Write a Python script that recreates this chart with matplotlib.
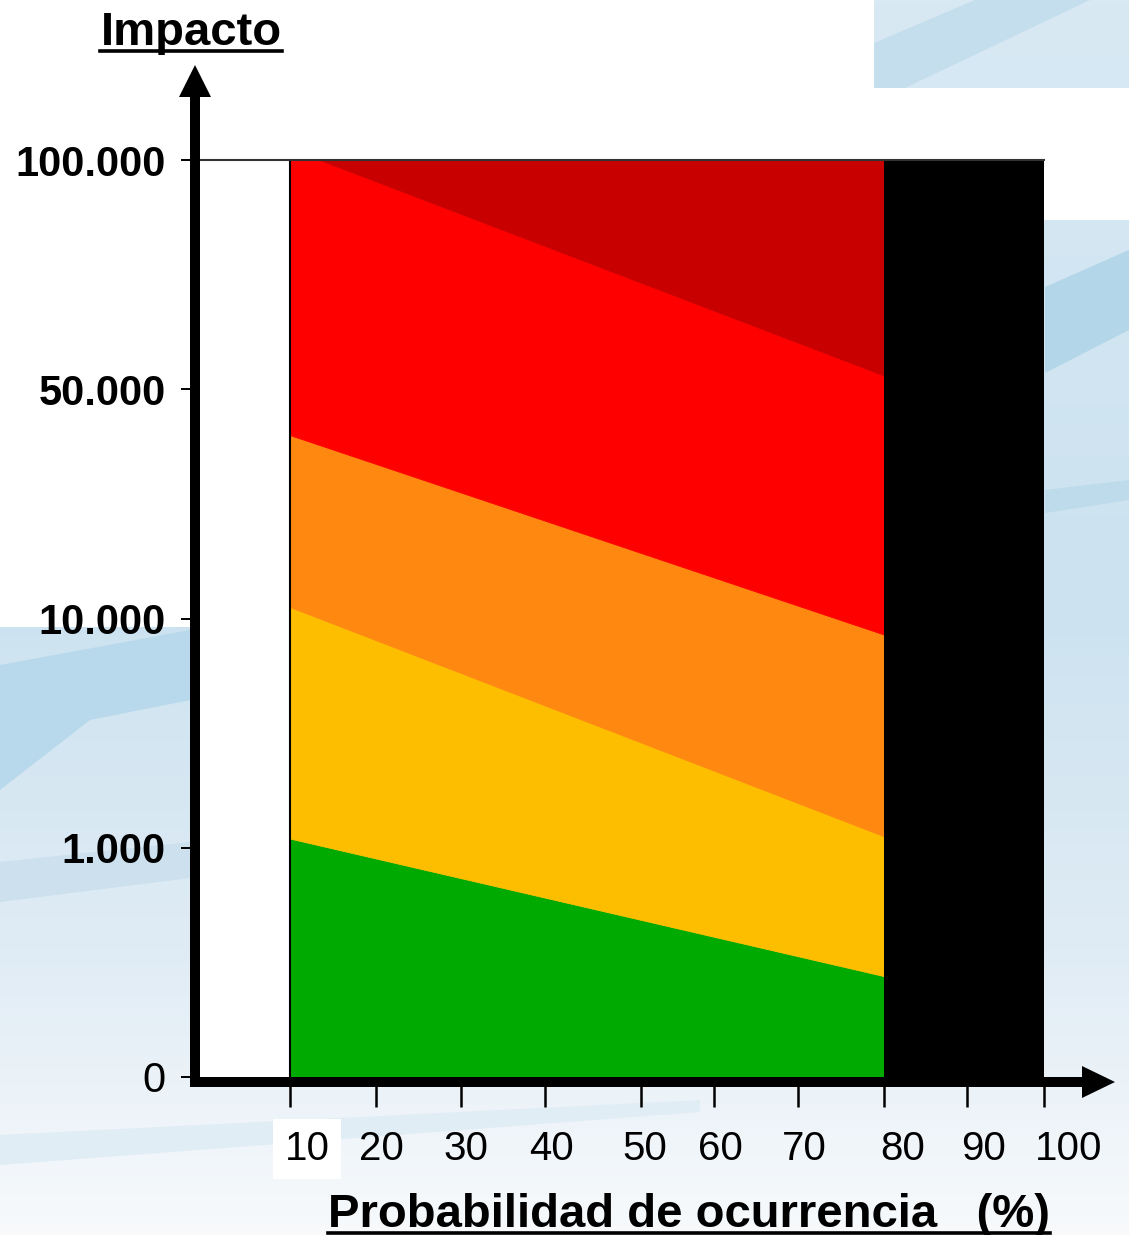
import matplotlib
matplotlib.use("Agg")
import matplotlib.pyplot as plt
import numpy as np
from matplotlib.patches import Polygon, Rectangle
from matplotlib.lines import Line2D
from matplotlib.transforms import ScaledTranslation

plt.rcParams['font.family'] = ['Liberation Sans', 'DejaVu Sans']

# --- data ---
prob_ticks = [10, 20, 30, 40, 50, 60, 70, 80, 90, 100]
prob_labels = ['10', '20', '30', '40', '50', '60', '70', '80', '90', '100']
impact_levels = [0, 1, 2, 3, 4]
impact_labels = ['0', '1.000', '10.000', '50.000', '100.000']

band_x = [10, 80]          # coloured zone between these probabilities
green_top = [1.04, 0.44]   # in impact levels, at band_x ends
yellow_top = [2.05, 1.05]
orange_top = [2.80, 1.93]
red_top = [4.05, 3.06]
black_x = [80, 100]

band_colors = ['#00AA00', '#FDBE00', '#FF8811', '#FF0000', '#C80000']

# --- layout (pixels of the 1129x1235 picture) ---
W, H = 1129, 1235
x_grid = [0] + prob_ticks
x_px = [196, 290, 376, 461, 545, 641, 714, 798, 884, 967, 1044]   # hand drawn axis, uneven
label_dx = [17, 5, 5, 6, 4, 6, 6, 19, 17, 25]                      # label offsets seen in the slide
ax_l, ax_r, ax_t, ax_b = 196, 1044, 160, 1077

fig = plt.figure(figsize=(W / 100, H / 100), dpi=100)

# slide background (light blue, partly covered by white boxes)
bg = fig.add_axes([0, 0, 1, 1], zorder=-5)
rows = np.arange(0, H, 5)
stops = [0, 600, 950, H]
cols = np.array([[216, 233, 244], [204, 226, 240], [224, 236, 245], [248, 250, 252]]) / 255
grad = np.stack([np.interp(rows, stops, cols[:, c]) for c in range(3)], axis=-1)[:, None, :]
bg.imshow(grad, extent=(0, W, H, 0), aspect='auto')
stripe = dict(edgecolor='none')
bg.add_patch(Polygon([(874, 43), (975, 0), (1090, 0), (905, 88), (874, 88)], facecolor=(0.77, 0.87, 0.93), **stripe))
bg.add_patch(Polygon([(1045, 287), (1129, 250), (1129, 330), (1045, 373)], facecolor=(0.70, 0.84, 0.91), **stripe))
bg.add_patch(Polygon([(1045, 490), (1129, 480), (1129, 500), (1045, 513)], facecolor=(0.74, 0.86, 0.92), **stripe))
bg.add_patch(Polygon([(0, 665), (190, 630), (190, 700), (90, 720), (0, 790)], facecolor=(0.72, 0.85, 0.92), **stripe))
bg.add_patch(Polygon([(0, 862), (190, 842), (190, 878), (0, 902)], facecolor=(0.80, 0.88, 0.93), **stripe))
bg.add_patch(Polygon([(0, 1135), (700, 1100), (700, 1112), (0, 1165)], facecolor=(0.88, 0.93, 0.96), **stripe))
bg.add_patch(Rectangle((0, 0), 874, 88, facecolor='white', edgecolor='none'))
bg.add_patch(Rectangle((0, 88), W, 132, facecolor='white', edgecolor='none'))
bg.add_patch(Rectangle((0, 220), 190, 407, facecolor='white', edgecolor='none'))
bg.set_xlim(0, W)
bg.set_ylim(H, 0)
bg.axis('off')

# main chart
ax = fig.add_axes([ax_l / W, 1 - ax_b / H, (ax_r - ax_l) / W, (ax_b - ax_t) / H])
fwd = lambda v: np.interp(v, x_grid, x_px)
inv = lambda p: np.interp(p, x_px, x_grid)
ax.set_xscale('function', functions=(fwd, inv))
ax.set_xlim(0, 100)
ax.set_ylim(0, 4)
ax.set_facecolor('white')

# bands (stacked bottom to top; the top band is clipped at 100.000)
lowers = [[0, 0], green_top, yellow_top, orange_top, red_top]
uppers = [green_top, yellow_top, orange_top, red_top, [5, 5]]
for lo, hi, c in zip(lowers, uppers, band_colors):
    ax.fill_between(band_x, lo, hi, facecolor=c, edgecolor=c, lw=0.6)
ax.fill_between(black_x, [0, 0], [4, 4], color='black', lw=0)
ax.axvline(band_x[0], color='black', lw=1.5)

for s in ['left', 'right', 'bottom']:
    ax.spines[s].set_visible(False)
ax.spines['top'].set_color('#333333')
ax.spines['top'].set_linewidth(1.5)

ax.set_xticks(prob_ticks)
ax.tick_params(axis='x', direction='out', length=21.6, width=1.8, labelbottom=False)
ax.set_yticks(impact_levels)
ax.set_yticklabels(impact_labels)
ax.tick_params(axis='y', direction='out', length=10.8, width=1.4, pad=11, labelsize=30)
for i, lab in enumerate(ax.get_yticklabels()):
    lab.set_fontweight('normal' if i == 0 else 'bold')

# x tick labels, shifted like in the slide
for i, (v, s) in enumerate(zip(prob_ticks, prob_labels)):
    off = ScaledTranslation(label_dx[i] / 100, 0, fig.dpi_scale_trans)
    t = ax.text(v, (ax_b - 1160) / (ax_b - ax_t), s, transform=ax.get_xaxis_transform() + off,
                ha='center', va='baseline', fontsize=29, clip_on=False)
    if i == 0:
        t.set_bbox(dict(facecolor='white', edgecolor='none', pad=8))

# axis arrows
def axx(px):
    return (px - ax_l) / (ax_r - ax_l)

def axy(py):
    return (ax_b - py) / (ax_b - ax_t)

ax.plot([axx(195), axx(195)], [axy(1087), axy(95)], transform=ax.transAxes, color='black',
        lw=7.2, solid_capstyle='butt', clip_on=False, zorder=10)
ax.add_patch(Polygon([(axx(179), axy(97)), (axx(211), axy(97)), (axx(195), axy(65))],
                     closed=True, transform=ax.transAxes, facecolor='black', edgecolor='none',
                     clip_on=False, zorder=10))
ax.plot([axx(190), axx(1084)], [axy(1082), axy(1082)], transform=ax.transAxes, color='black',
        lw=7.2, solid_capstyle='butt', clip_on=False, zorder=10)
ax.add_patch(Polygon([(axx(1082), axy(1066)), (axx(1082), axy(1098)), (axx(1115), axy(1082))],
                     closed=True, transform=ax.transAxes, facecolor='black', edgecolor='none',
                     clip_on=False, zorder=10))

# titles with underline
t1 = fig.text(191 / W, 1 - 45 / H, 'Impacto', ha='center', va='baseline',
              fontsize=34, fontweight='bold')
t2 = fig.text(689 / W, 1 - 1227 / H, 'Probabilidad de ocurrencia   (%)', ha='center',
              va='baseline', fontsize=34, fontweight='bold')
r = fig.canvas.get_renderer()
for t, y in [(t1, 51), (t2, 1232.5)]:
    bb = t.get_window_extent(r)
    fig.add_artist(Line2D([bb.x0 / W, bb.x1 / W], [1 - y / H, 1 - y / H],
                          transform=fig.transFigure, color='black', lw=2.6))

fig.savefig('out.png', dpi=100)
